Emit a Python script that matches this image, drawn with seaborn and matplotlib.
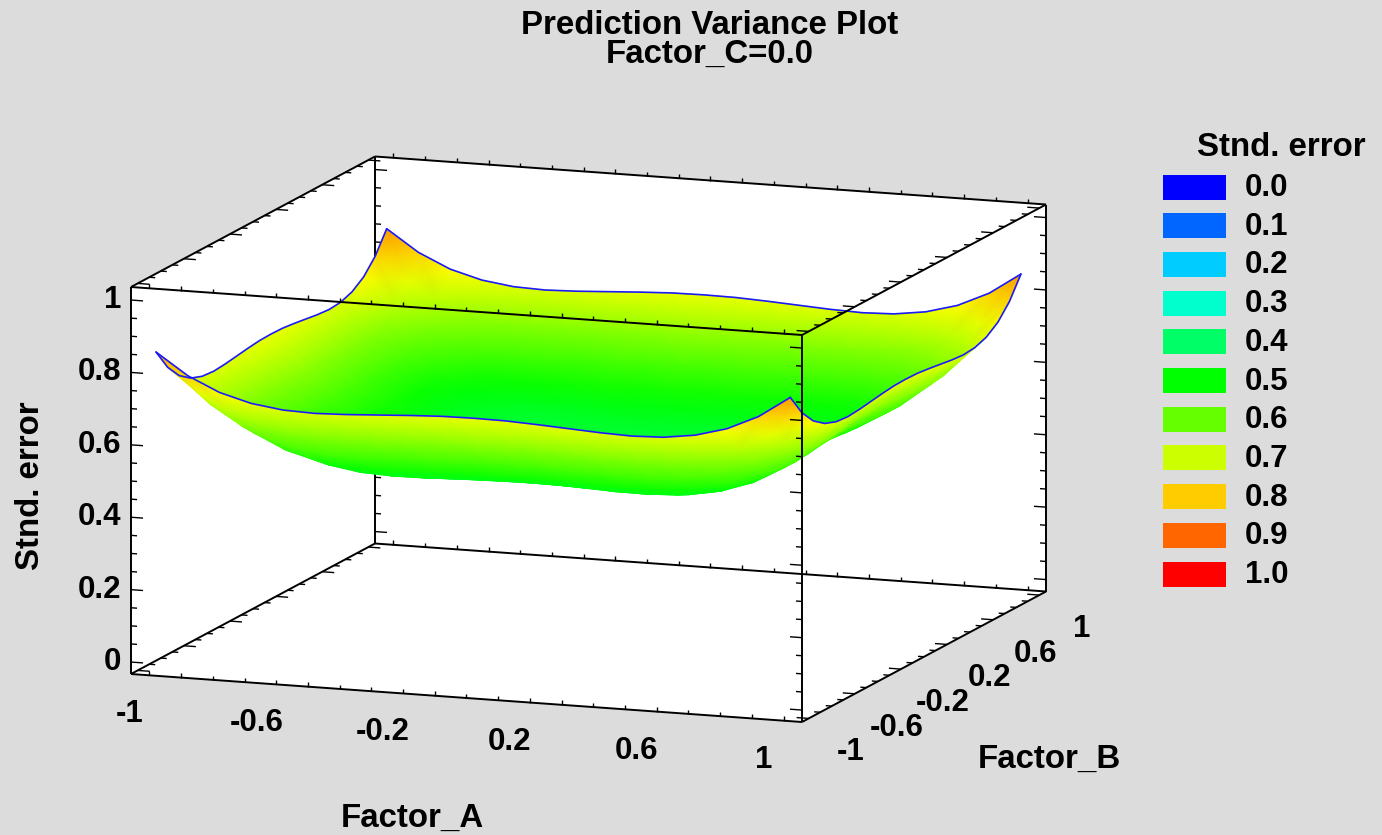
# prediction variance surface, drawn with an oblique box projection
import numpy as np
import seaborn as sns
import matplotlib
matplotlib.use('Agg')
import matplotlib.pyplot as plt
from matplotlib.collections import LineCollection

# grid nodes for both factors
factor_nodes = [-1.0, -0.9, -0.8, -0.7, -0.6, -0.5, -0.4, -0.3, -0.2, -0.1, 0.0,
                0.1, 0.2, 0.3, 0.4, 0.5, 0.6, 0.7, 0.8, 0.9, 1.0]

# std. error, one row per Factor_B level (the surface is even in Factor_B)
se_b10 = [.850, .791, .751, .727, .715, .712, .715, .720, .725, .729, .730, .729, .725, .720, .715, .712, .715, .727, .751, .791, .850]
se_b09 = [.791, .725, .677, .647, .631, .626, .627, .631, .636, .640, .641, .640, .636, .631, .627, .626, .631, .647, .677, .725, .791]
se_b08 = [.751, .677, .623, .588, .567, .559, .559, .562, .567, .570, .572, .570, .567, .562, .559, .559, .567, .588, .623, .677, .751]
se_b07 = [.727, .647, .588, .547, .523, .511, .509, .512, .516, .519, .520, .519, .516, .512, .509, .511, .523, .547, .588, .647, .727]
se_b06 = [.715, .631, .567, .523, .495, .481, .477, .478, .482, .485, .486, .485, .482, .478, .477, .481, .495, .523, .567, .631, .715]
se_b05 = [.712, .626, .559, .511, .481, .465, .460, .460, .463, .465, .466, .465, .463, .460, .460, .465, .481, .511, .559, .626, .712]
se_b04 = [.715, .627, .559, .509, .477, .460, .453, .452, .454, .456, .457, .456, .454, .452, .453, .460, .477, .509, .559, .627, .715]
se_b03 = [.720, .631, .562, .512, .478, .460, .452, .451, .452, .454, .455, .454, .452, .451, .452, .460, .478, .512, .562, .631, .720]
se_b02 = [.725, .636, .567, .516, .482, .463, .454, .452, .453, .455, .456, .455, .453, .452, .454, .463, .482, .516, .567, .636, .725]
se_b01 = [.729, .640, .570, .519, .485, .465, .456, .454, .455, .457, .458, .457, .455, .454, .456, .465, .485, .519, .570, .640, .729]
se_b00 = [.730, .641, .572, .520, .486, .466, .457, .455, .456, .458, .458, .458, .456, .455, .457, .466, .486, .520, .572, .641, .730]

# rows go from Factor_B = 1 (back) to Factor_B = -1 (front), so later quads paint over earlier ones
se_rows = [se_b10, se_b09, se_b08, se_b07, se_b06, se_b05, se_b04, se_b03, se_b02, se_b01, se_b00,
           se_b01, se_b02, se_b03, se_b04, se_b05, se_b06, se_b07, se_b08, se_b09, se_b10]

legend_levels = ['0.0', '0.1', '0.2', '0.3', '0.4', '0.5', '0.6', '0.7', '0.8', '0.9', '1.0']
legend_colors = ['#0000ff', '#0066ff', '#00ccff', '#00ffcc', '#00ff66', '#00ff00',
                 '#66ff00', '#ccff00', '#ffcc00', '#ff6600', '#ff0000']
# half steps keep the hue wheel bright between the legend colours
half_colors = ['#0033ff', '#0099ff', '#00ffff', '#00ff99', '#00ff33',
               '#33ff00', '#99ff00', '#ffff00', '#ff9900', '#ff3300']

major_ticks = [-1, -0.6, -0.2, 0.2, 0.6, 1]
major_labels = ['-1', '-0.6', '-0.2', '0.2', '0.6', '1']
z_major = [0, 0.2, 0.4, 0.6, 0.8, 1]
z_labels = ['0', '0.2', '0.4', '0.6', '0.8', '1']

sns.set_style('white')
plt.rcParams['font.family'] = ['Liberation Sans', 'DejaVu Sans']
plt.rcParams['font.weight'] = 'bold'
plt.rcParams['text.color'] = 'black'

BG = '#dcdcdc'
LIM = 1.058
Z_LO, Z_HI = -0.033, 1.036
FS = 22.5
FS_NAME = 23.8


def project(a, b, z):
    # box corners on screen, in picture pixels
    fa = (np.asarray(a, dtype=float) + LIM) / (2 * LIM)
    fb = (np.asarray(b, dtype=float) + LIM) / (2 * LIM)
    fz = (np.asarray(z, dtype=float) - Z_LO) / (Z_HI - Z_LO)
    return 131 + 671 * fa + 244 * fb, 674 + 48 * fa - 130.5 * fb - 387 * fz


def seg(p, q):
    return [tuple(float(v) for v in project(*p)), tuple(float(v) for v in project(*q))]


fig = plt.figure(figsize=(13.82, 8.35), dpi=100, facecolor=BG)
ax = fig.add_axes([0, 0, 1, 1])
ax.set_xlim(0, 1382)
ax.set_ylim(835, 0)
ax.axis('off')

# white inside of the box
hull = [(-LIM, -LIM, Z_HI), (-LIM, LIM, Z_HI), (LIM, LIM, Z_HI), (LIM, LIM, Z_LO), (LIM, -LIM, Z_LO), (-LIM, -LIM, Z_LO)]
hx, hy = zip(*[project(*c) for c in hull])
ax.fill(hx, hy, color='white', lw=0, zorder=0)

# box edges: what lies behind the surface goes first
L, H = -LIM, LIM
behind = [((L, H, Z_LO), (L, H, Z_HI)), ((L, -H, Z_LO), (L, H, Z_LO)), ((L, H, Z_LO), (H, H, Z_LO)),
          ((H, -H, Z_LO), (H, H, Z_LO))]
front = [((L, L, Z_LO), (L, L, Z_HI)), ((L, L, Z_HI), (H, L, Z_HI)), ((H, L, Z_LO), (H, L, Z_HI)),
         ((L, L, Z_LO), (H, L, Z_LO)), ((H, L, Z_HI), (H, H, Z_HI)), ((L, L, Z_HI), (L, H, Z_HI)),
         ((L, H, Z_HI), (H, H, Z_HI)), ((H, H, Z_LO), (H, H, Z_HI))]
ax.add_collection(LineCollection([seg(p, q) for p, q in behind], colors='black', lw=1.4, zorder=1))
ax.add_collection(LineCollection([seg(p, q) for p, q in front], colors='black', lw=1.4, zorder=4))

# tick marks on every edge
back_ticks, front_ticks = [], []
z_steps = np.arange(0, 21) * 0.05
for z in z_steps:
    size = 0.038 if int(round(z * 20)) % 4 == 0 else 0.019
    back_ticks.append(seg((L, H, z), (L + size, H, z)))
    front_ticks.append(seg((L, L, z), (L + size, L, z)))
    front_ticks.append(seg((H, L, z), (H - size, L, z)))
    front_ticks.append(seg((H, H, z), (H - size, H, z)))
steps = np.arange(-10, 11) * 0.1
for t in steps:
    rise = 0.012
    front_ticks.append(seg((t, L, Z_LO), (t, L, Z_LO + rise)))
    front_ticks.append(seg((t, L, Z_HI), (t, L, Z_HI + rise)))
    back_ticks.append(seg((t, H, Z_LO), (t, H, Z_LO + rise)))
    front_ticks.append(seg((t, H, Z_HI), (t, H, Z_HI + rise)))
    size = 0.038 if int(round((t + 1) * 10)) % 4 == 0 else 0.019
    front_ticks.append(seg((L, t, Z_LO), (L + size, t, Z_LO)))
    front_ticks.append(seg((H, t, Z_LO), (H - size, t, Z_LO)))
    front_ticks.append(seg((L, t, Z_HI), (L + size, t, Z_HI)))
    front_ticks.append(seg((H, t, Z_HI), (H - size, t, Z_HI)))
ax.add_collection(LineCollection(back_ticks, colors='black', lw=1.0, zorder=1))
ax.add_collection(LineCollection(front_ticks, colors='black', lw=1.0, zorder=4))

# surface, coloured by its own height
all_colors = [c for pair in zip(legend_colors, half_colors + ['']) for c in pair if c]
cmap = sns.blend_palette(all_colors, as_cmap=True)
se_values = np.array(se_rows)
grid_a, grid_b = np.meshgrid(factor_nodes, factor_nodes[::-1])
sx, sy = project(grid_a, grid_b, se_values)
ax.pcolormesh(sx, sy, se_values, cmap=cmap, vmin=0, vmax=1, shading='gouraud', zorder=2)

# blue rim around the surface
rim = [(grid_a[0], grid_b[0], se_values[0]), (grid_a[-1], grid_b[-1], se_values[-1]),
       (grid_a[:, 0], grid_b[:, 0], se_values[:, 0]), (grid_a[:, -1], grid_b[:, -1], se_values[:, -1])]
for ra, rb, rz in rim:
    rx, ry = project(ra, rb, rz)
    ax.plot(rx, ry, color='#1a1aff', lw=1.2, zorder=3)

# tick labels
for t, label in zip(major_ticks, major_labels):
    x, y = project(t, L, Z_LO)
    ax.text(x - 20, y + 39, label, fontsize=FS, ha='center', va='center')
    x, y = project(H, t, Z_LO)
    ax.text(x + 42, y + 34, label, fontsize=FS, ha='center', va='center')
for z, label in zip(z_major, z_labels):
    x, y = project(L, L, z)
    ax.text(x - 10, y, label, fontsize=FS, ha='right', va='center')

ax.text(412, 818, 'Factor_A', fontsize=FS_NAME, ha='center', va='center')
ax.text(1049, 759, 'Factor_B', fontsize=FS_NAME, ha='center', va='center')
ax.text(31, 486, 'Stnd. error', fontsize=FS_NAME, ha='center', va='center', rotation=90)
ax.text(710, 26, 'Prediction Variance Plot', fontsize=FS_NAME, ha='center', va='center')
ax.text(710, 54, 'Factor_C=0.0', fontsize=FS_NAME, ha='center', va='center')

# legend
ax.text(1281, 148, 'Stnd. error', fontsize=FS_NAME, ha='center', va='center')
leg_y = 187 + np.arange(len(legend_levels)) * 38.7
ax.barh(leg_y, 63, left=1163, height=25, color=legend_colors, edgecolor='none', zorder=2)
for y, label in zip(leg_y, legend_levels):
    ax.text(1245, y + 1, label, fontsize=FS, ha='left', va='center')

fig.savefig('out.png', dpi=100, facecolor=BG)
